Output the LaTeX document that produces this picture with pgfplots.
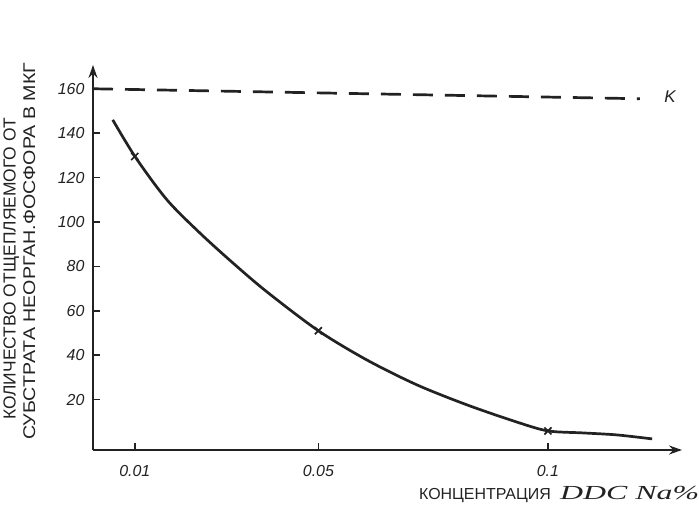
\documentclass[border=0pt]{standalone}
\usepackage{fontspec}
\setmainfont{Liberation Sans}
\newfontfamily\ddcfont{Liberation Serif}
\usepackage{pgfplots}
\pgfplotsset{compat=1.18}
\usetikzlibrary{arrows.meta}
\definecolor{ink}{HTML}{222222}
\begin{document}
\begin{tikzpicture}
\begin{axis}[
  scale only axis, width=589bp, height=385bp,
  xmin=0.0009, xmax=0.1292, ymin=-2.7, ymax=170.7,
  axis lines=left,
  axis line style={line width=1.7bp, color=ink, -{Stealth[length=13bp,width=9bp]}},
  xtick={0.01,0.05,0.1}, xticklabels={0.01,0.05,0.1},
  ytick={20,40,60,80,100,120,140,160},
  tick align=inside, major tick length=7bp,
  tick style={line width=1.5bp, color=ink},
  tick label style={font=\itshape\fontsize{16}{16}\selectfont, text=ink},
  /pgf/number format/assume math mode=true,
  yticklabel style={xshift=-5bp},
  xticklabel style={yshift=-12bp},
  clip=false,
]
\coordinate (O) at (rel axis cs:0,0);
% reference line K
\addplot[ink, line width=2.7bp, dash pattern=on 20bp off 12bp] coordinates {(0.0009,160) (0.12,155.5)};
% main curve
\addplot[ink, line width=2.7bp, smooth] coordinates {
(0.0052,146) (0.0102,129) (0.017,110) (0.0242,95) (0.0314,81.5) (0.0388,68.5)
(0.05,51) (0.0606,37.8) (0.0715,26.6) (0.0824,17.6) (0.0932,9.9)
(0.1,5.9) (0.1076,5.0) (0.115,4.1) (0.1227,2.3)};
% measured points
\addplot[ink, only marks, mark=x, mark size=5bp, mark options={line width=1.7bp}] coordinates {(0.01,129.5) (0.05,51) (0.1,5.9)};
\node[anchor=west, inner sep=0, text=ink, font=\itshape\fontsize{17}{17}\selectfont] at (axis cs:0.1253,156.3) {K};
\node[anchor=base west, inner sep=0, text=ink, font=\fontsize{16}{16}\selectfont] at (axis cs:0.0719,-25.2) {КОНЦЕНТРАЦИЯ};
\node[anchor=base west, inner sep=0, text=ink, font=\ddcfont\itshape\fontsize{20}{20}\selectfont] at (axis cs:0.1026,-25.2) {\scalebox{1.6}[1]{DDC Na\%}};
\node[rotate=90, anchor=west, inner sep=0, text=ink, font=\fontsize{17.5}{17.5}\selectfont] at (axis cs:-0.01688,10.8) {КОЛИЧЕСТВО ОТЩЕПЛЯЕМОГО ОТ};
\node[rotate=90, anchor=west, inner sep=0, text=ink, font=\fontsize{17}{17}\selectfont] at (axis cs:-0.01296,1.8) {\scalebox{1.16}[1]{СУБСТРАТА НЕОРГАН.ФОСФОРА В МКГ}};
\end{axis}
\pgfresetboundingbox
\path[use as bounding box] (O) ++(-93bp,-57bp) rectangle ++(699bp,507bp);
\end{tikzpicture}
\end{document}
